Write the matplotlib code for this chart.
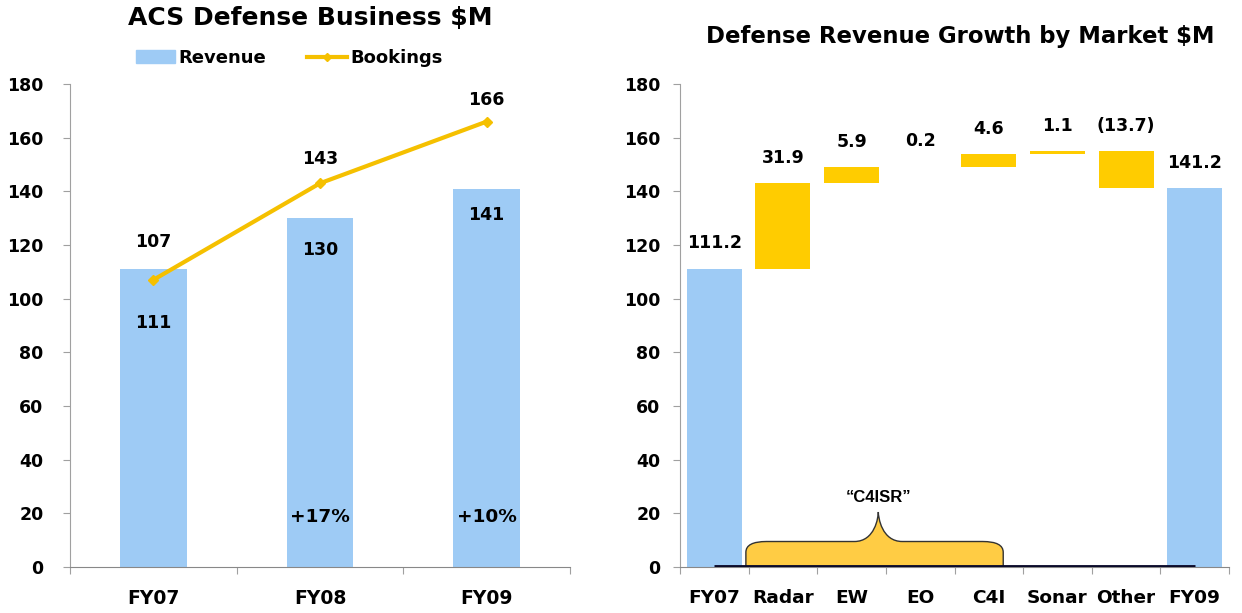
import matplotlib
matplotlib.use("Agg")
import matplotlib.pyplot as plt
from matplotlib.path import Path
from matplotlib.patches import PathPatch, Rectangle
from matplotlib.lines import Line2D
import numpy as np

# ---- data ----
years = ["FY07", "FY08", "FY09"]
revenue = [111, 130, 141]
bookings = [107, 143, 166]
growth_labels = ["", "+17%", "+10%"]

wf_cats = ["FY07", "Radar", "EW", "EO", "C4I", "Sonar", "Other", "FY09"]
wf_start = 111.2
wf_deltas = [31.9, 5.9, 0.2, 4.6, 1.1, -13.7]
wf_end = 141.2
wf_labels = ["111.2", "31.9", "5.9", "0.2", "4.6", "1.1", "(13.7)", "141.2"]

yticks = [0, 20, 40, 60, 80, 100, 120, 140, 160, 180]

BLUE = "#9ECBF5"
YELLOW = "#FFCC00"
LINE = "#F5C000"
AXC = "#A0A0A0"

plt.rcParams['font.family'] = ['DejaVu Sans']
plt.rcParams['font.weight'] = 'bold'

fig = plt.figure(figsize=(12.42, 6.13), dpi=100)
W, H = 1242, 613

def ax_rect(l, r, top, bot):
    return [l / W, 1 - bot / H, (r - l) / W, (bot - top) / H]

def style(ax, pad):
    for s in ["top", "right"]:
        ax.spines[s].set_visible(False)
    ax.spines["left"].set_color(AXC)
    ax.spines["bottom"].set_color("#888888")
    ax.tick_params(axis="y", colors=AXC, labelcolor="black", labelsize=12.5, length=5, pad=pad)
    ax.set_ylim(0, 180)
    ax.set_yticks(yticks)
    ax.set_yticklabels([str(t) for t in yticks], fontweight="bold")

# ---- left chart ----
ax1 = fig.add_axes(ax_rect(70, 570, 84, 567))
style(ax1, 14)
x = np.arange(len(years))
ax1.bar(x, revenue, width=0.4, color=BLUE, zorder=2)
ax1.plot(x, bookings, color=LINE, lw=3, marker="D", ms=5, zorder=3)
ax1.set_xlim(-0.5, 2.5)
ax1.set_xticks([-0.5, 0.5, 1.5, 2.5])
ax1.set_xticklabels([])
ax1.set_xticks(x, minor=True)
ax1.set_xticklabels(years, minor=True, fontweight="bold", fontsize=13.5)
ax1.tick_params(axis="x", which="minor", length=0, pad=16)
ax1.tick_params(axis="x", which="major", length=5, colors=AXC)

rev_label_y = [91, 118, 131]
book_label_y = [121, 152, 174]
for i in range(len(years)):
    ax1.text(x[i], rev_label_y[i], str(revenue[i]), ha="center", va="center", fontsize=12.5, fontweight="bold")
    ax1.text(x[i], book_label_y[i], str(bookings[i]), ha="center", va="center", fontsize=12.5, fontweight="bold")
    if growth_labels[i]:
        ax1.text(x[i], 18.5, growth_labels[i], ha="center", va="center", fontsize=13.3, fontweight="bold")

fig.text(310 / W, 1 - 18 / H, "ACS Defense Business $M", ha="center", va="center", fontsize=18, fontweight="bold")
# legend
h1 = Rectangle((0, 0), 1, 1, color=BLUE)
h2 = Line2D([0], [0], color=LINE, lw=3, marker="D", ms=4)
fig.legend([h1, h2], ["Revenue", "Bookings"], loc="center", bbox_to_anchor=(289 / W, 1 - 58 / H),
           ncol=2, frameon=False, prop={"weight": "bold", "size": 13}, handlelength=2.2,
           handletextpad=0.15, columnspacing=2.3)

# ---- right chart ----
ax2 = fig.add_axes(ax_rect(680, 1229, 84, 567))
style(ax2, 9)
n = len(wf_cats)
xs = np.arange(n)
bottoms = []
heights = []
level = wf_start
for d in wf_deltas:
    bottoms.append(level if d >= 0 else level + d)
    heights.append(abs(d))
    level += d
ax2.bar([0], [wf_start], width=0.8, color=BLUE, zorder=2)
ax2.bar([n - 1], [wf_end], width=0.8, color=BLUE, zorder=2)
ax2.bar(xs[1:-1], heights, bottom=bottoms, width=0.8, color=YELLOW, zorder=2)
tops = [wf_start] + [b + h for b, h in zip(bottoms, heights)] + [wf_end]
for i in range(n):
    ax2.text(xs[i], tops[i] + 9.5, wf_labels[i], ha="center", va="center", fontsize=12.5, fontweight="bold")
ax2.set_xlim(-0.5, n - 0.5)
ax2.set_xticks(np.arange(-0.5, n, 1.0))
ax2.set_xticklabels([])
ax2.set_xticks(xs, minor=True)
ax2.set_xticklabels(wf_cats, minor=True, fontweight="bold", fontsize=13.3)
ax2.tick_params(axis="x", which="minor", length=0, pad=16)
ax2.tick_params(axis="x", which="major", length=5, colors=AXC)

# baseline dark line
ax2.plot([xs[0], xs[-1]], [0, 0], color="#0A0A2A", lw=3.5, zorder=4, solid_capstyle="butt")

# brace over C4ISR markets (Radar..C4I)
x0, x1 = xs[1] - 0.54, xs[4] + 0.21
xm = (xs[2] + xs[3]) / 2 - 0.11
h = 9.5
pk = 20.5
r = 0.3
verts = [
    (x0, 0), (x0, h - 4), (x0, h), (x0 + r, h),
    (xm - 0.35, h), (xm - 0.05, h), (xm, pk - 2), (xm, pk),
    (xm, pk - 2), (xm + 0.05, h), (xm + 0.35, h),
    (x1 - r, h), (x1, h), (x1, h - 4), (x1, 0), (x0, 0)
]
codes = [Path.MOVETO, Path.LINETO, Path.CURVE3, Path.CURVE3,
         Path.LINETO, Path.CURVE4, Path.CURVE4, Path.CURVE4,
         Path.CURVE4, Path.CURVE4, Path.CURVE4,
         Path.LINETO, Path.CURVE3, Path.CURVE3, Path.LINETO, Path.CLOSEPOLY]
ax2.add_patch(PathPatch(Path(verts, codes), facecolor="#FFCC44", edgecolor="#333333", lw=1, zorder=3))
ax2.text(xm, 26, "\u201cC4ISR\u201d", ha="center", va="center", fontsize=12, fontweight="bold",
         family=["Liberation Sans", "DejaVu Sans"])

fig.text(960 / W, 1 - 37 / H, "Defense Revenue Growth by Market $M", ha="center", va="center",
         fontsize=16.4, fontweight="bold")

fig.savefig("out.png", dpi=100)
